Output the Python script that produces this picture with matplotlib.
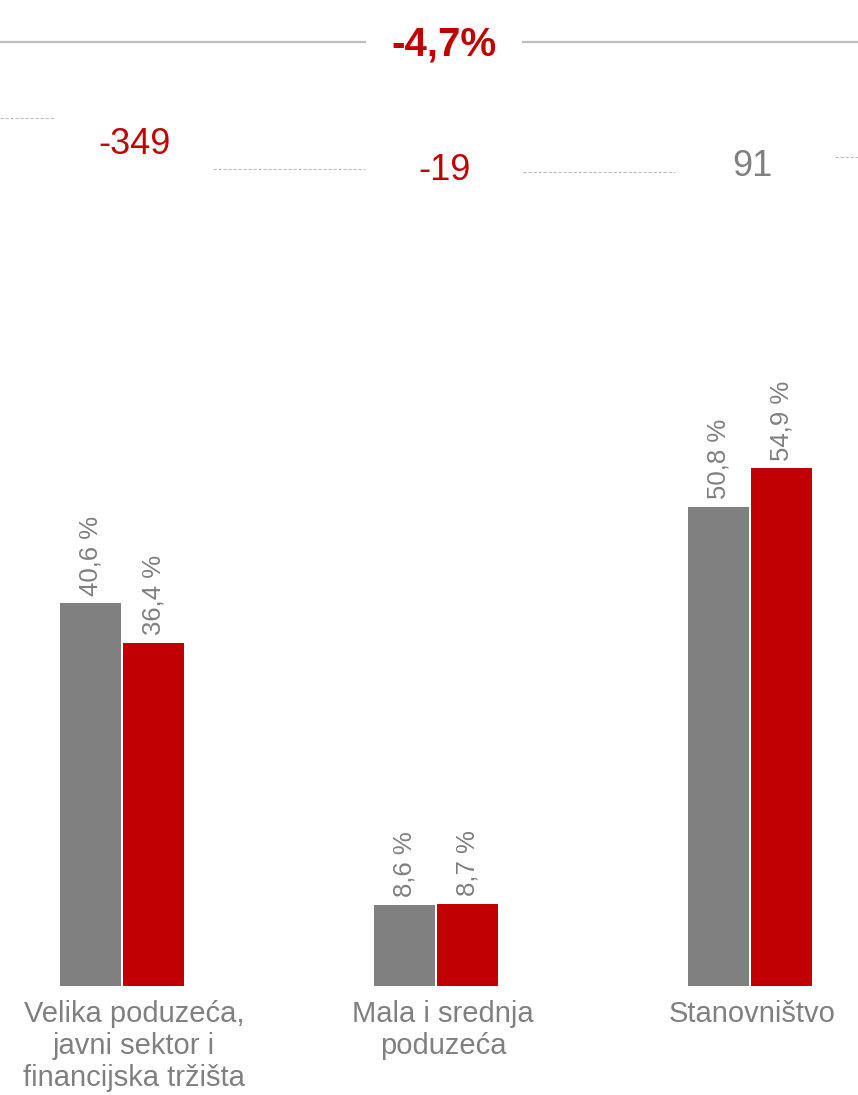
import matplotlib
matplotlib.use("Agg")
import matplotlib.pyplot as plt
import numpy as np

plt.rcParams['font.family'] = ['Liberation Sans', 'DejaVu Sans']

categories = ["Velika poduzeća,\njavni sektor i\nfinancijska tržišta",
              "Mala i srednja\npoduzeća",
              "Stanovništvo"]
share_prev = [40.6, 8.6, 50.8]
share_curr = [36.4, 8.7, 54.9]
changes = ["-349", "-19", "91"]
change_colors = ["#C00000", "#C00000", "#808080"]
total_change = "-4,7%"

GRAY = "#808080"
RED = "#C00000"
W, H = 858, 1095

fig = plt.figure(figsize=(W / 100, H / 100), dpi=100)
ax = fig.add_axes([0, 0, 1, 1])

x = np.arange(len(categories))
bw = 61 / 314
b1 = ax.bar(x - bw / 2 - 0.003, share_prev, bw, color=GRAY)
b2 = ax.bar(x + bw / 2 + 0.003, share_curr, bw, color=RED)

for bars, vals in ((b1, share_prev), (b2, share_curr)):
    for b, v in zip(bars, vals):
        ax.text(b.get_x() + b.get_width() / 2, v + 0.8, f"{v:.1f} %".replace(".", ","),
                rotation=90, ha="center", va="bottom", fontsize=18.5, color=GRAY)

# category labels sit slightly right of the group centres in the original
label_shift = [0.038, 0.022, 0.006]
for xi, lab, s in zip(x, categories, label_shift):
    ax.text(xi + s, -1.5, lab, ha="center", va="top", fontsize=21, color=GRAY,
            linespacing=1.18)

ppu = 9.43
ax.set_xlim(-122 / 314, 2 + 108 / 314)
ax.set_ylim(-(H - 986) / ppu, 986 / ppu)
ax.axis("off")


def fx(px):
    return px / W


def fy(py):
    return 1 - py / H


t = ax.transAxes
# top total line
ax.plot([fx(0), fx(365)], [fy(42), fy(42)], color="#BFBFBF", lw=1.6, transform=t)
ax.plot([fx(523), fx(858)], [fy(42), fy(42)], color="#BFBFBF", lw=1.6, transform=t)
ax.text(fx(444), fy(45), total_change, transform=t, ha="center", va="center",
        fontsize=29, fontweight="bold", color=RED)

# dashed connectors between change values
dashes = [((0, 55), 118), ((213, 365), 169), ((523, 675), 172), ((835, 858), 157)]
for (xa, xb), yy in dashes:
    ax.plot([fx(xa), fx(xb)], [fy(yy), fy(yy)], color="#BFBFBF", lw=0.8,
            ls=(0, (3, 1.5)), transform=t)

change_pos = [(135, 144), (445, 171), (752, 166)]
for (px, py), lab, c in zip(change_pos, changes, change_colors):
    ax.text(fx(px), fy(py), lab, transform=t, ha="center", va="center",
            fontsize=26, color=c)

fig.savefig("out.png", dpi=100)
